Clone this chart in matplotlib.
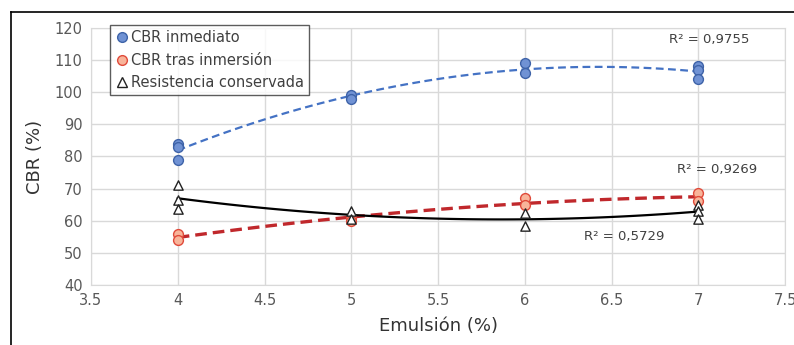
import numpy as np
import matplotlib.pyplot as plt
from matplotlib.lines import Line2D

x_inm = [4, 4, 4, 5, 5, 6, 6, 7, 7, 7]
cbr_inm = [84, 83, 79, 99, 98, 109, 106, 108, 107, 104]

x_tras = [4, 4, 5, 5, 6, 6, 7, 7]
cbr_tras = [56, 54, 61, 60, 67, 65, 68.5, 66]

x_res = [4, 4, 4, 5, 5, 6, 6, 7, 7, 7]
res_cons = [71, 66.5, 63.5, 63, 60.5, 62.5, 58.5, 65, 63, 60.5]

r2_labels = ["R² = 0,9755", "R² = 0,9269", "R² = 0,5729"]

fig = plt.figure(figsize=(7.94, 3.45), dpi=100)
ax = fig.add_axes([0.1146, 0.174, 0.8741, 0.745])

grid_c = "#d9d9d9"
tick_c = "#595959"


def trend(x, y):
    c = np.polyfit(x, y, 2)
    xs = np.linspace(4, 7, 100)
    return xs, np.polyval(c, xs)


xs, ys = trend(x_inm, cbr_inm)
ax.plot(xs, ys, ls=(0, (3.5, 2)), color="#4472c4", lw=1.6, zorder=2)
xs, ys = trend(x_tras, cbr_tras)
ax.plot(xs, ys, ls=(0, (3.5, 1.8)), color="#c0282c", lw=2.4, zorder=2)
xs, ys = trend(x_res, res_cons)
ax.plot(xs, ys, ls="-", color="black", lw=1.6, zorder=2)

ax.scatter(x_inm, cbr_inm, s=50, facecolor="#7092d4", edgecolor="#3e63a8",
           lw=1, zorder=3)
ax.scatter(x_tras, cbr_tras, s=50, facecolor="#f8b49a", edgecolor="#e04a3a",
           lw=1, zorder=3)
ax.scatter(x_res, res_cons, s=45, marker="^", facecolor="white",
           edgecolor="#222222", lw=1, zorder=4)

ax.text(6.83, 116.5, r2_labels[0], fontsize=9.5, color="#404040", va="center")
ax.text(6.88, 75.8, r2_labels[1], fontsize=9.5, color="#404040", va="center")
ax.text(6.34, 55, r2_labels[2], fontsize=9.5, color="#404040", va="center")

ax.set_xlim(3.5, 7.5)
ax.set_ylim(40, 120)
ax.set_xticks(np.arange(3.5, 7.6, 0.5))
ax.set_xticklabels(["3.5", "4", "4.5", "5", "5.5", "6", "6.5", "7", "7.5"])
ax.set_yticks(np.arange(40, 121, 10))
ax.tick_params(length=0, labelsize=10.5, colors=tick_c, pad=6)
ax.grid(True, color=grid_c, lw=1)
ax.set_axisbelow(True)
for s in ax.spines.values():
    s.set_color(grid_c)

ax.set_xlabel("Emulsión (%)", fontsize=13, color="#333333", labelpad=6)
ax.set_ylabel("CBR (%)", fontsize=13, color="#333333", labelpad=8)

handles = [
    Line2D([], [], ls="none", marker="o", ms=7, mfc="#7092d4", mec="#3e63a8"),
    Line2D([], [], ls="none", marker="o", ms=7, mfc="#f8b49a", mec="#e04a3a"),
    Line2D([], [], ls="none", marker="^", ms=7, mfc="white", mec="#222222"),
]
leg = ax.legend(handles, ["CBR inmediato", "CBR tras inmersión",
                          "Resistencia conservada"],
                loc="upper left", bbox_to_anchor=(0.027, 1.01), fontsize=10.5,
                frameon=True, fancybox=False, handletextpad=0.1,
                handlelength=1.0, borderpad=0.35, labelspacing=0.5,
                borderaxespad=0)
leg.get_frame().set_edgecolor("#333333")
leg.get_frame().set_linewidth(1)
for t in leg.get_texts():
    t.set_color("#404040")

# outer frame of the figure
fig.add_artist(Line2D([0.014, 0.014], [0, 0.965], color="black", lw=1.2,
                      transform=fig.transFigure))
fig.add_artist(Line2D([0.014, 1], [0.965, 0.965], color="black", lw=1.2,
                      transform=fig.transFigure))

fig.savefig("out.png", dpi=100)
